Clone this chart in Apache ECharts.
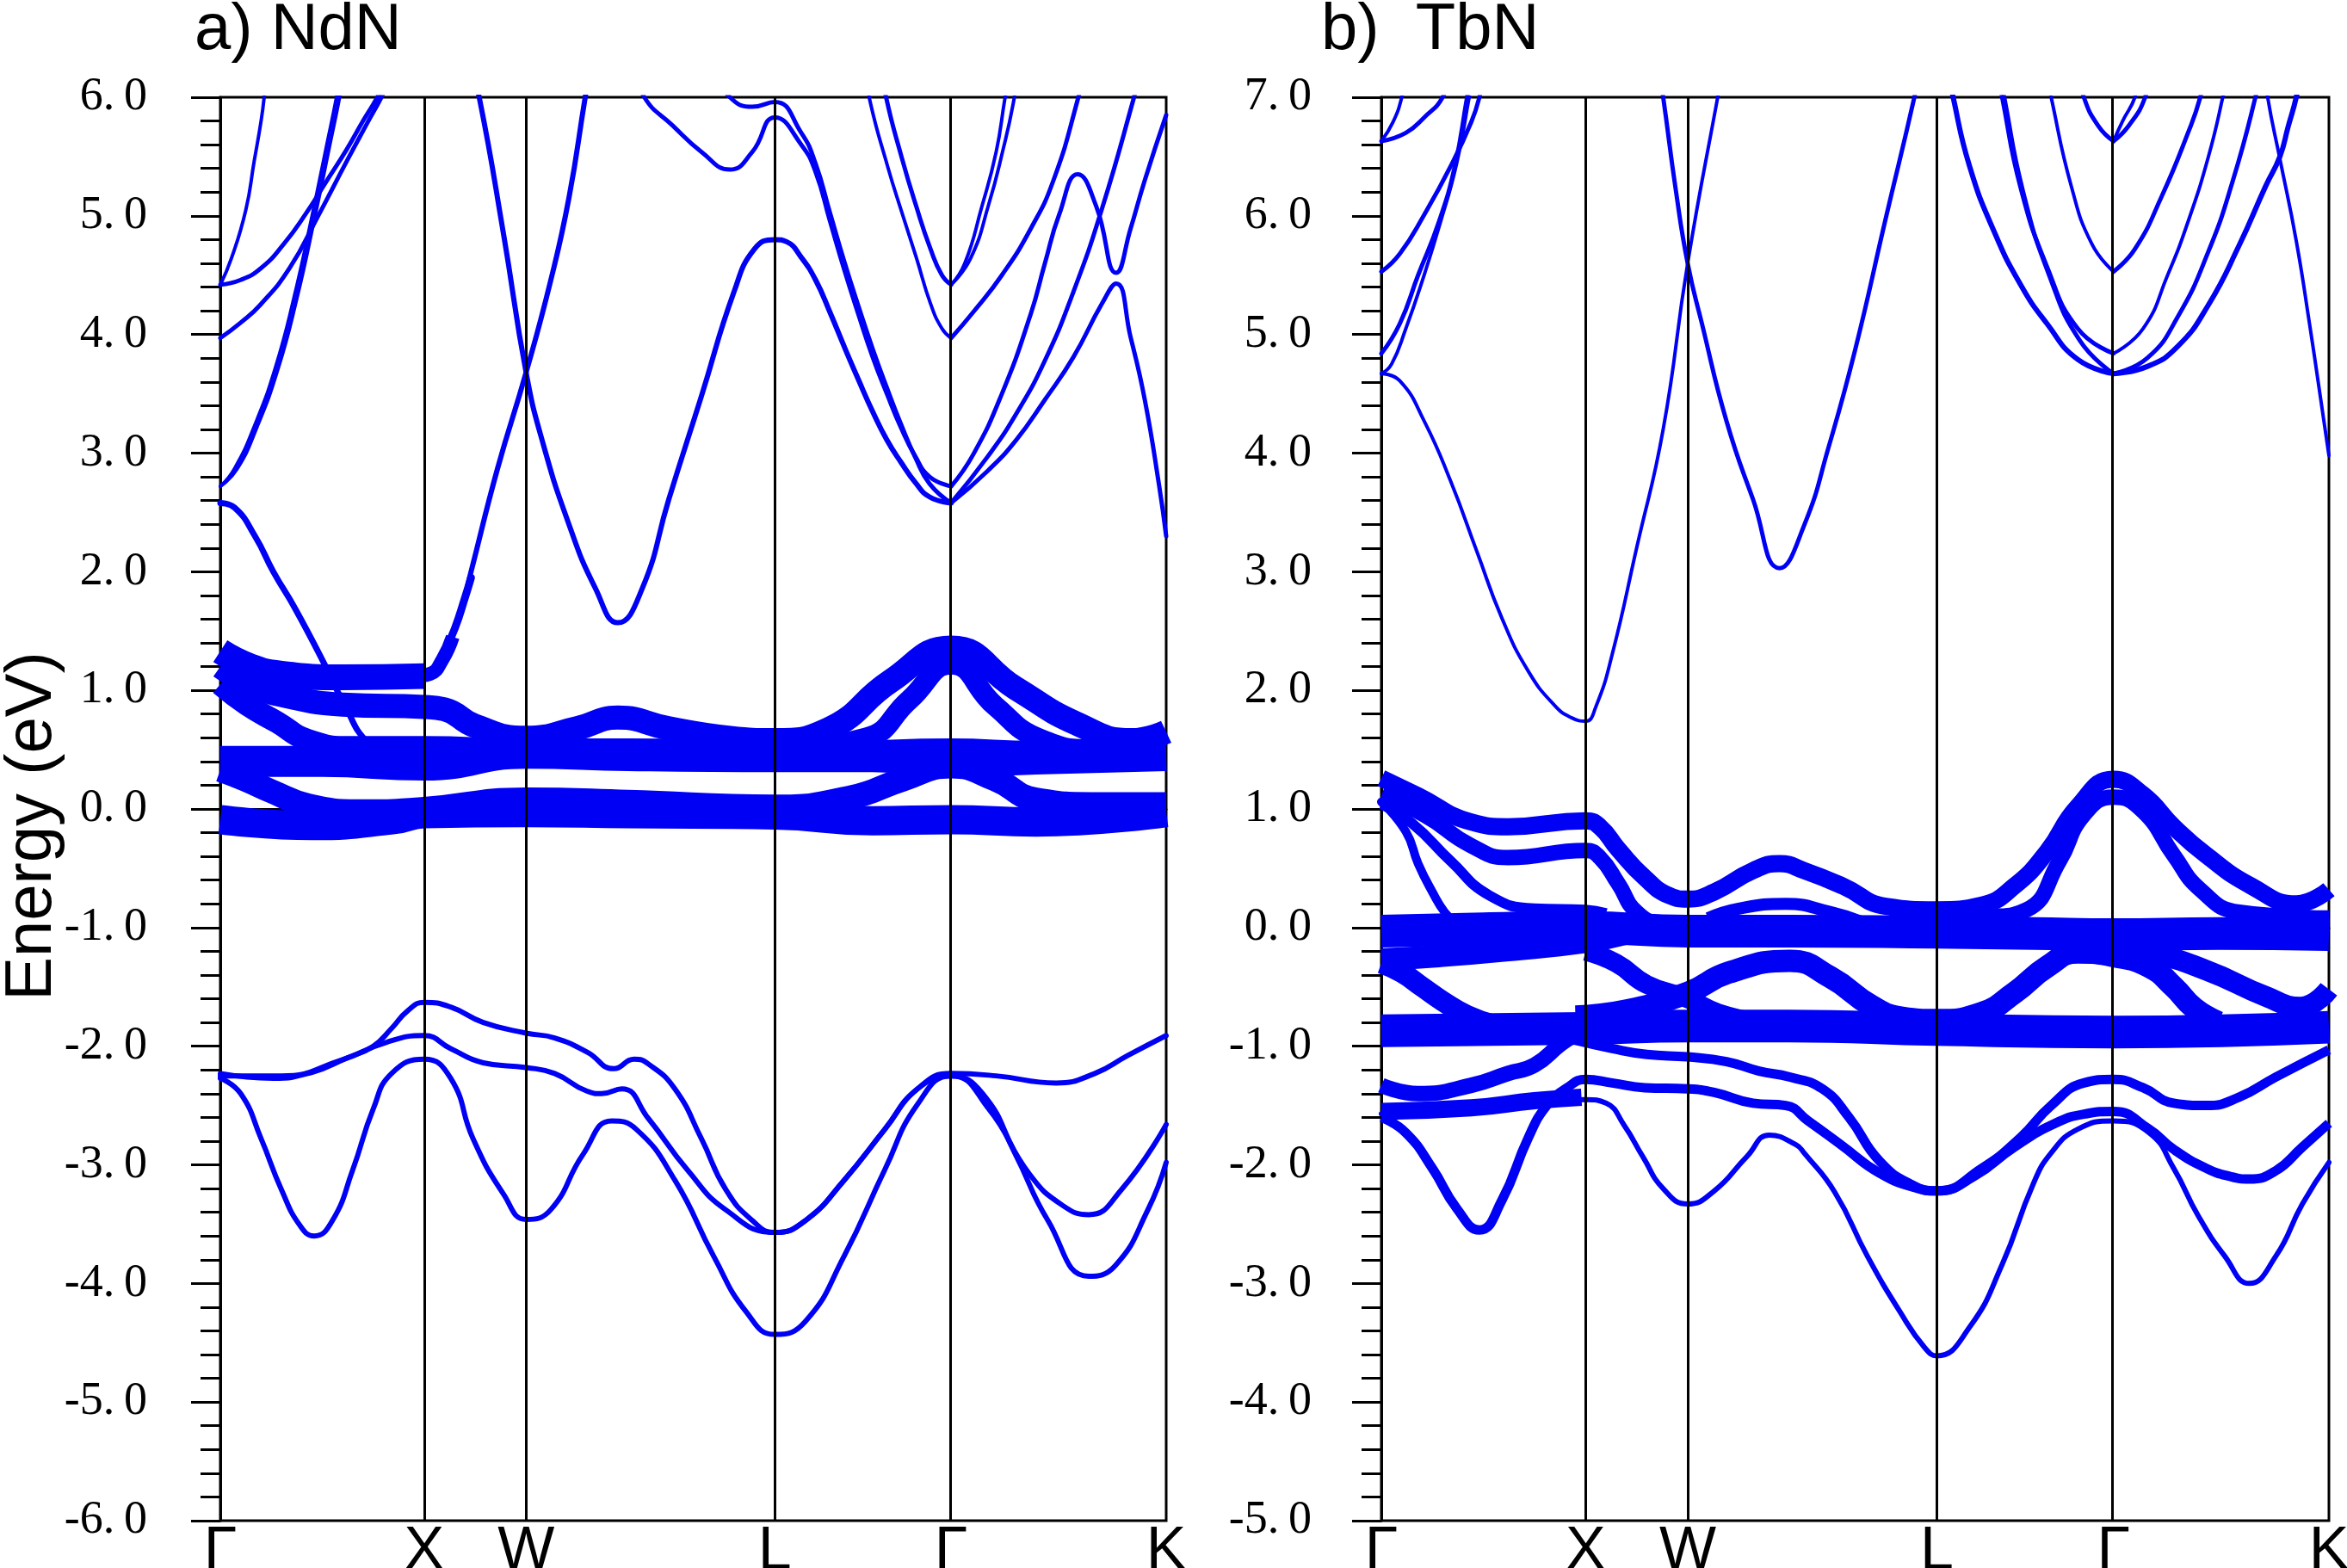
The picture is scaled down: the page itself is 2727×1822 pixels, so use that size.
<!DOCTYPE html>
<html>
<head>
<meta charset="utf-8">
<script src="https://cdn.jsdelivr.net/npm/echarts@6/dist/echarts.min.js"></script>
<style>
  html, body { margin: 0; padding: 0; background: #fff; }
  #chart { width: 2727px; height: 1822px; }
</style>
</head>
<body>
<div id="chart"></div>
<script>
// k-path (distance along path) and its labels
var kTicks = [0, 1, 1.5, 2.72, 3.585, 4.64];
var kLabels = ['Γ', 'X', 'W', 'L', 'Γ', 'K'];

// ---------- a) NdN : bands as [k, E(eV)] ----------
var ndC1 = [[0,4.42],[0.054,4.64],[0.125,5.05],[0.166,5.46],[0.2,5.8],[0.215,6.0],[0.23,6.3]];
var ndC2 = [[0,4.42],[0.1,4.46],[0.2,4.56],[0.31,4.76],[0.42,5.02],[0.52,5.29],[0.62,5.56],[0.7,5.8],[0.77,6.0],[0.8,6.12]];
var ndC3 = [[0,3.97],[0.1,4.1],[0.196,4.25],[0.34,4.56],[0.48,5.0],[0.62,5.46],[0.72,5.78],[0.79,6.0],[0.82,6.12]];
var ndC4 = [[0,2.72],[0.07,2.87],[0.17,3.24],[0.27,3.72],[0.36,4.3],[0.45,5.0],[0.52,5.58],[0.57,6.0],[0.6,6.3]];
var ndC5 = [[0,2.72],[0.08,2.86],[0.18,3.22],[0.285,3.72],[0.375,4.3],[0.465,5.0],[0.535,5.58],[0.585,6.0],[0.61,6.25]];
var ndCdown = [[0,2.58],[0.07,2.54],[0.17,2.3],[0.26,2.0],[0.37,1.68],[0.52,1.19],[0.6,0.91],[0.73,0.55],[0.88,0.44],[1.0,0.42]];
var ndC6 = [[1.22,6.3],[1.27,6.0],[1.39,4.84],[1.5,3.68],[1.58,3.1],[1.71,2.4],[1.84,1.86],[1.95,1.57],[2.07,1.86],[2.2,2.61],[2.36,3.48],[2.52,4.36],[2.62,4.72],[2.72,4.8],[2.78,4.78],[2.85,4.65],[2.92,4.46],[2.99,4.19],[3.06,3.9],[3.13,3.62],[3.2,3.35],[3.27,3.11],[3.34,2.92],[3.41,2.75],[3.48,2.63],[3.585,2.58]];
var ndC7 = [[1.12,1.4],[1.17,1.6],[1.23,2.0],[1.36,2.87],[1.5,3.68],[1.62,4.45],[1.71,5.15],[1.79,6.0],[1.82,6.3]];
var ndC8 = [[2.04,6.25],[2.08,6.0],[2.22,5.76],[2.36,5.54],[2.5,5.39],[2.61,5.54],[2.72,5.83],[2.85,5.6],[2.92,5.37],[2.99,4.96],[3.06,4.55],[3.13,4.17],[3.2,3.81],[3.27,3.5],[3.34,3.21],[3.41,2.97],[3.48,2.8],[3.585,2.72]];
var ndC9 = [[2.44,6.2],[2.5,6.0],[2.61,5.92],[2.72,5.96],[2.85,5.7],[2.92,5.44],[2.99,5.03],[3.06,4.62],[3.13,4.24],[3.2,3.88],[3.27,3.55],[3.34,3.24],[3.41,2.96],[3.48,2.74],[3.585,2.58]];
var ndU = [[3.24,6.3],[3.266,6.0],[3.343,5.49],[3.414,5.08],[3.484,4.72],[3.54,4.5],[3.585,4.42]];
var ndV = [[3.17,6.2],[3.188,5.96],[3.273,5.42],[3.343,5.03],[3.414,4.65],[3.484,4.26],[3.54,4.05],[3.585,3.97]];
var ndR = [[3.585,3.97],[3.694,4.19],[3.834,4.5],[3.975,4.89],[4.087,5.3],[4.206,5.98],[4.23,6.2]];
var ndT1 = [[3.585,4.42],[3.652,4.6],[3.736,5.08],[3.806,5.54],[3.848,5.98],[3.87,6.2]];
var ndT2 = [[3.585,4.42],[3.68,4.64],[3.77,5.1],[3.84,5.56],[3.89,5.95],[3.91,6.2]];
var ndP = [[3.585,2.72],[3.694,2.99],[3.834,3.5],[3.975,4.17],[4.045,4.6],[4.115,5.01],[4.206,5.35],[4.297,5.08],[4.395,4.52],[4.465,4.89],[4.535,5.3],[4.64,5.85]];
var ndQ = [[3.585,2.58],[3.764,2.85],[3.904,3.11],[4.045,3.45],[4.185,3.81],[4.325,4.26],[4.395,4.43],[4.465,3.98],[4.535,3.45],[4.605,2.73],[4.64,2.3]];
var ndS = [[3.585,2.58],[3.764,2.97],[3.904,3.33],[4.045,3.78],[4.185,4.36],[4.325,5.06],[4.479,5.98],[4.51,6.2]];
// f-like (fat) bands near the Fermi level
var ndF1 = [[0,1.33],[0.15,1.2],[0.3,1.14],[0.6,1.11],[1.0,1.12]];
var ndX1 = [[0.95,1.12],[1.03,1.14],[1.09,1.26],[1.14,1.45]];
var ndX2 = [[1.1,1.33],[1.15,1.52],[1.2,1.78],[1.23,1.95]];
var ndB2 = [[0,1.2],[0.15,1.05],[0.3,0.96],[0.6,0.88],[1.0,0.86],[1.1,0.84],[1.25,0.7],[1.5,0.6],[1.75,0.68],[1.95,0.77],[2.2,0.68],[2.5,0.6],[2.72,0.58],[2.98,0.67],[3.29,1.08],[3.585,1.36],[3.9,1.02],[4.2,0.72],[4.47,0.58],[4.64,0.65]];
var ndB3 = [[2.72,0.5],[3.17,0.6],[3.38,0.92],[3.585,1.22],[3.8,0.87],[4.02,0.59],[4.3,0.5],[4.64,0.5]];
var ndG1 = [[0,1.05],[0.13,0.88],[0.28,0.73],[0.43,0.58],[0.65,0.52],[1.0,0.52],[1.5,0.5],[2.0,0.5],[2.72,0.48],[3.0,0.48],[3.585,0.5],[4.0,0.48],[4.64,0.48]];
var ndF3 = [[0,0.4],[0.5,0.4],[1.0,0.37],[1.5,0.47],[2.0,0.45],[2.72,0.44],[3.2,0.44],[3.585,0.4],[4.0,0.42],[4.64,0.45]];
var ndG2 = [[0,0.33],[0.12,0.25],[0.25,0.15],[0.43,0.03],[0.7,-0.02],[1.0,0.0],[1.5,0.08],[2.0,0.06],[2.72,0.02],[3.1,0.1],[3.35,0.25],[3.585,0.36],[3.8,0.25],[4.0,0.08],[4.3,0.04],[4.64,0.04]];
var ndF4 = [[0,-0.09],[0.45,-0.14],[0.85,-0.09],[1.0,-0.04],[1.5,-0.03],[2.0,-0.04],[2.72,-0.05],[3.2,-0.1],[3.585,-0.09],[4.0,-0.11],[4.64,-0.03]];
// valence (N p)
var ndV1 = [[0,-2.23],[0.26,-2.27],[0.45,-2.22],[0.62,-2.1],[0.75,-2.0],[0.84,-1.85],[0.92,-1.7],[1.0,-1.63],[1.13,-1.67],[1.29,-1.8],[1.5,-1.89],[1.64,-1.93],[1.8,-2.05],[1.93,-2.19],[2.03,-2.11],[2.1,-2.15],[2.23,-2.36],[2.36,-2.78],[2.48,-3.21],[2.61,-3.47],[2.72,-3.57],[2.87,-3.47],[3.06,-3.13],[3.26,-2.7],[3.42,-2.36],[3.585,-2.23],[3.805,-2.25],[4.1,-2.31],[4.29,-2.23],[4.45,-2.08],[4.64,-1.91]];
var ndV2 = [[0,-2.25],[0.3,-2.25],[0.59,-2.12],[0.81,-1.97],[1.0,-1.91],[1.13,-2.02],[1.29,-2.14],[1.5,-2.18],[1.64,-2.23],[1.8,-2.38],[1.87,-2.4],[1.97,-2.36],[2.1,-2.61],[2.29,-3.04],[2.48,-3.38],[2.72,-3.57],[2.87,-3.47],[3.06,-3.13],[3.26,-2.7],[3.42,-2.36],[3.585,-2.25],[3.77,-2.53],[3.97,-3.08],[4.13,-3.34],[4.26,-3.42],[4.42,-3.21],[4.64,-2.66]];
var ndV3 = [[0,-2.27],[0.1,-2.4],[0.2,-2.78],[0.3,-3.21],[0.39,-3.51],[0.46,-3.6],[0.55,-3.47],[0.65,-3.04],[0.75,-2.53],[0.84,-2.23],[1.0,-2.11],[1.13,-2.27],[1.24,-2.78],[1.39,-3.25],[1.5,-3.46],[1.62,-3.38],[1.78,-2.91],[1.92,-2.63],[2.04,-2.7],[2.23,-3.13],[2.42,-3.77],[2.58,-4.24],[2.72,-4.43],[2.87,-4.32],[3.06,-3.77],[3.26,-3.04],[3.42,-2.49],[3.585,-2.25],[3.74,-2.4],[3.9,-2.91],[4.06,-3.47],[4.26,-3.94],[4.39,-3.85],[4.55,-3.38],[4.64,-2.98]];

// ---------- b) TbN ----------
var tbR1 = [[0,6.63],[0.12,6.7],[0.21,6.83],[0.3,7.0],[0.33,7.2]];
var tbR1b = [[0,6.63],[0.057,6.79],[0.1,7.0],[0.12,7.2]];
var tbR2 = [[0,5.53],[0.09,5.68],[0.21,6.01],[0.34,6.42],[0.44,6.79],[0.48,7.0],[0.5,7.2]];
var tbR3 = [[0,4.84],[0.09,5.09],[0.18,5.5],[0.28,5.94],[0.36,6.42],[0.42,7.0],[0.44,7.2]];
var tbR4 = [[0,4.67],[0.05,4.75],[0.12,5.05],[0.2,5.45],[0.29,5.95],[0.37,6.45],[0.43,7.0],[0.45,7.2]];
var tbR5 = [[0,4.67],[0.09,4.61],[0.21,4.27],[0.34,3.76],[0.47,3.16],[0.59,2.61],[0.72,2.16],[0.85,1.87],[0.93,1.77],[1.0,1.74],[1.05,1.86],[1.13,2.3],[1.25,3.2],[1.38,4.2],[1.5,5.6],[1.647,7.0],[1.67,7.2]];
var tbR6 = [[1.36,7.2],[1.38,7.0],[1.44,6.24],[1.5,5.6],[1.57,5.09],[1.69,4.27],[1.82,3.61],[1.95,3.03],[2.07,3.39],[2.19,4.05],[2.32,4.87],[2.47,5.98],[2.61,7.0],[2.63,7.2]];
var tbLa = [[2.78,7.2],[2.8,7.0],[2.88,6.42],[3.0,5.87],[3.13,5.42],[3.26,5.09],[3.41,4.79],[3.585,4.67]];
var tbLb1 = [[3.02,7.2],[3.04,7.0],[3.13,6.24],[3.26,5.57],[3.41,5.05],[3.585,4.84]];
var tbLb2 = [[3.03,7.2],[3.05,7.0],[3.14,6.22],[3.27,5.5],[3.42,4.95],[3.585,4.67]];
var tbLc = [[3.26,7.2],[3.28,7.0],[3.38,6.24],[3.48,5.76],[3.585,5.53]];
var tbLd = [[3.42,7.2],[3.44,7.0],[3.51,6.76],[3.585,6.63]];
var tbRa1 = [[3.585,6.63],[3.66,6.76],[3.74,7.0],[3.76,7.2]];
var tbRa2 = [[3.585,6.63],[3.63,6.8],[3.69,7.0],[3.71,7.2]];
var tbRa = [[3.585,5.53],[3.69,5.72],[3.82,6.16],[3.95,6.7],[4.01,7.0],[4.03,7.2]];
var tbRb = [[3.585,4.84],[3.73,5.05],[3.85,5.5],[3.95,5.95],[4.05,6.5],[4.12,7.0],[4.14,7.2]];
var tbRc = [[3.585,4.67],[3.75,4.8],[3.9,5.15],[4.05,5.7],[4.17,6.3],[4.28,7.0],[4.3,7.2]];
var tbRd = [[3.585,4.67],[3.75,4.73],[3.9,4.9],[4.05,5.25],[4.2,5.75],[4.33,6.25],[4.4,6.5],[4.44,6.75],[4.48,7.0],[4.5,7.2]];
var tbRe = [[4.33,7.2],[4.34,7.0],[4.4,6.48],[4.48,5.79],[4.545,5.09],[4.59,4.57],[4.64,3.98]];
// fat f-bands
var tbF1 = [[0,1.26],[0.18,1.11],[0.44,0.89],[0.62,0.85],[1.0,0.9],[1.07,0.85],[1.16,0.66],[1.29,0.42],[1.41,0.27],[1.5,0.24],[1.63,0.3],[1.82,0.48],[1.95,0.54],[2.07,0.48],[2.26,0.35],[2.47,0.18],[2.72,0.15],[2.94,0.19],[3.1,0.35],[3.26,0.64],[3.41,1.02],[3.585,1.25],[3.73,1.12],[3.88,0.85],[4.04,0.61],[4.26,0.35],[4.48,0.2],[4.64,0.32]];
var tbF1b = [[1.6,0.08],[1.75,0.16],[1.98,0.2],[2.2,0.13],[2.35,0.05]];
var tbF2 = [[0,1.11],[0.21,0.95],[0.44,0.69],[0.62,0.59],[1.0,0.65],[1.07,0.59],[1.16,0.37],[1.25,0.13],[1.38,0.02],[1.5,0.0],[2.0,0.02],[2.72,0.03],[2.94,0.08],[3.16,0.15],[3.32,0.56],[3.44,0.95],[3.585,1.1],[3.73,0.98],[3.88,0.61],[4.01,0.32],[4.2,0.13],[4.64,0.08]];
var tbG1 = [[0,1.06],[0.12,0.81],[0.18,0.54],[0.25,0.3],[0.31,0.13],[0.36,0.05]];
var tbG2 = [[0,1.04],[0.15,0.88],[0.34,0.56],[0.53,0.27],[0.75,0.16],[1.0,0.15],[1.1,0.12]];
var tbF0 = [[0,-0.03],[0.5,-0.01],[1.0,0.0],[1.5,-0.03],[2.0,-0.03],[2.72,-0.04],[3.2,-0.05],[3.585,-0.06],[4.1,-0.05],[4.64,-0.06]];
var tbTx = [[0,-0.27],[0.28,-0.24],[0.62,-0.19],[1.0,-0.12],[1.2,-0.05]];
var tbRg3 = [[0,-0.3],[0.1,-0.38],[0.2,-0.5],[0.3,-0.62],[0.42,-0.74],[0.55,-0.82]];
var tbMa = [[1.0,-0.2],[1.15,-0.3],[1.3,-0.48],[1.5,-0.6],[1.65,-0.72],[1.85,-0.8]];
var tbMb = [[0.95,-0.75],[1.2,-0.7],[1.5,-0.55],[1.7,-0.38],[2.0,-0.28],[2.2,-0.42],[2.4,-0.66],[2.55,-0.76],[2.72,-0.78],[2.94,-0.72],[3.1,-0.55],[3.26,-0.33],[3.41,-0.21],[3.585,-0.24],[3.76,-0.33],[3.88,-0.5],[3.98,-0.68],[4.1,-0.8]];
var tbM3 = [[3.585,-0.2],[3.79,-0.23],[4.04,-0.36],[4.33,-0.58],[4.5,-0.67],[4.64,-0.52]];
var tbFlat = [[0,-0.87],[1.0,-0.85],[1.5,-0.83],[2.0,-0.83],[2.72,-0.86],[3.585,-0.88],[4.64,-0.84]];
// valence
var tbL1 = [[0,-1.33],[0.18,-1.4],[0.44,-1.33],[0.62,-1.23],[0.75,-1.16],[0.88,-0.98],[0.95,-0.9]];
var tbL4 = [[0,-1.6],[0.12,-1.73],[0.25,-2.03],[0.37,-2.37],[0.48,-2.55],[0.59,-2.3],[0.72,-1.77],[0.81,-1.5],[0.91,-1.35],[1.0,-1.28],[1.13,-1.31],[1.29,-1.35],[1.5,-1.36],[1.63,-1.39],[1.82,-1.48],[1.98,-1.5],[2.09,-1.63],[2.25,-1.83],[2.44,-2.07],[2.63,-2.2],[2.72,-2.22],[2.94,-2.03],[3.13,-1.77],[3.28,-1.5],[3.44,-1.31],[3.585,-1.28],[3.73,-1.35],[3.88,-1.48],[4.04,-1.5],[4.2,-1.43],[4.38,-1.26],[4.64,-1.03]];
var tbL7 = [[0,-1.57],[0.44,-1.55],[0.75,-1.48],[1.0,-1.45],[1.1,-1.48],[1.19,-1.67],[1.28,-1.93],[1.38,-2.2],[1.5,-2.33],[1.63,-2.22],[1.79,-1.93],[1.9,-1.75],[2.03,-1.83],[2.07,-1.9],[2.22,-2.23],[2.38,-2.77],[2.54,-3.24],[2.66,-3.54],[2.72,-3.61],[2.88,-3.37],[3.04,-2.84],[3.19,-2.17],[3.28,-1.9],[3.41,-1.7],[3.585,-1.63],[3.76,-1.73],[3.88,-2.03],[4.0,-2.43],[4.13,-2.77],[4.25,-3.0],[4.38,-2.77],[4.51,-2.33],[4.64,-1.98]];
var tbL7fat = [[0,-1.55],[0.44,-1.52],[0.75,-1.46],[0.98,-1.43]];
var tbL6 = [[0.95,-0.95],[1.13,-1.02],[1.3,-1.07],[1.5,-1.09],[1.69,-1.13],[1.85,-1.21],[2.0,-1.26],[2.16,-1.36],[2.29,-1.6],[2.44,-1.97],[2.6,-2.17],[2.72,-2.22],[2.9,-2.1],[3.1,-1.85],[3.3,-1.65],[3.45,-1.57],[3.585,-1.55],[3.76,-1.7],[3.88,-1.87],[4.04,-2.03],[4.16,-2.1],[4.25,-2.12],[4.38,-2.05],[4.51,-1.85],[4.64,-1.65]];

// line widths (px) for each band, per panel
var leftSet = [
  [ndF3, 36], [ndF4, 34], [ndG1, 26], [ndG2, 28], [ndB2, 28], [ndB3, 24], [ndF1, 30], [ndX1, 16], [ndX2, 9],
  [ndCdown, 7], [ndC6, 6], [ndC7, 6], [ndC1, 4], [ndC2, 5], [ndC3, 5], [ndC4, 4], [ndC5, 4],
  [ndC8, 5], [ndC9, 5], [ndU, 5], [ndV, 4], [ndR, 5], [ndT1, 4], [ndT2, 4], [ndP, 5], [ndQ, 5], [ndS, 5],
  [ndV1, 6], [ndV2, 6], [ndV3, 6]
];
var rightSet = [
  [tbF0, 38], [tbFlat, 38], [tbTx, 26], [tbRg3, 24], [tbMa, 22], [tbMb, 26], [tbM3, 24],
  [tbF1, 20], [tbF1b, 14], [tbF2, 18], [tbG1, 10], [tbG2, 12],
  [tbL1, 18], [tbL4, 11], [tbL7, 6], [tbL7fat, 20], [tbL6, 11],
  [tbR1, 5], [tbR1b, 4], [tbR2, 5], [tbR3, 5], [tbR4, 4], [tbR5, 4], [tbR6, 5],
  [tbLa, 6], [tbLb1, 5], [tbLb2, 5], [tbLc, 4], [tbLd, 5], [tbRa1, 5], [tbRa2, 4],
  [tbRa, 5], [tbRb, 4], [tbRc, 5], [tbRd, 6], [tbRe, 4]
];

var BLUE = '#0000f5';
var series = [];

function addBands(set, idx) {
  set.forEach(function (b) {
    series.push({
      type: 'line', xAxisIndex: idx, yAxisIndex: idx,
      data: b[0], symbol: 'none', smooth: 0.5,
      clip: true, silent: true, z: 3,
      lineStyle: { color: BLUE, width: b[1], cap: b[1] > 10 ? 'butt' : 'round', join: 'round' }
    });
  });
  // high-symmetry lines
  series.push({
    type: 'line', xAxisIndex: idx, yAxisIndex: idx, data: [], z: 1, silent: true,
    markLine: {
      silent: true, symbol: ['none', 'none'], label: { show: false },
      lineStyle: { color: '#000', width: 3, type: 'solid' },
      data: kTicks.slice(1, 5).map(function (v) { return { xAxis: v }; })
    }
  });
}
addBands(leftSet, 0);
addBands(rightSet, 1);

function xAx(idx) {
  return {
    gridIndex: idx, type: 'value', min: 0, max: 4.64,
    axisLine: { show: true, lineStyle: { color: '#000', width: 3 } },
    axisTick: { show: false }, splitLine: { show: false },
    axisLabel: {
      customValues: kTicks, margin: 2, color: '#000',
      fontFamily: 'Liberation Sans', fontSize: 70,
      formatter: function (v) { return kLabels[kTicks.indexOf(v)]; }
    }
  };
}
function yAx(idx, lo, hi, margin) {
  return {
    gridIndex: idx, type: 'value', min: lo, max: hi, interval: 1,
    axisLine: { show: true, lineStyle: { color: '#000', width: 3 } },
    axisTick: { show: true, inside: false, length: 34, lineStyle: { color: '#000', width: 3 } },
    minorTick: { show: true, splitNumber: 5, length: 23, lineStyle: { color: '#000', width: 3 } },
    splitLine: { show: false },
    axisLabel: {
      margin: margin, color: '#000', fontFamily: 'Liberation Serif', fontSize: 54,
      formatter: function (v) { return v.toFixed(1).replace('.', '.\u2009'); }
    }
  };
}

var chart = echarts.init(document.getElementById('chart'));
chart.setOption({
  animation: false,
  backgroundColor: '#fff',
  grid: [
    { left: 256, top: 113, width: 1099, height: 1654, outerBoundsMode: 'none', containLabel: false,
      show: true, borderColor: '#000', borderWidth: 3, backgroundColor: 'transparent' },
    { left: 1605, top: 113, width: 1101, height: 1654, outerBoundsMode: 'none', containLabel: false,
      show: true, borderColor: '#000', borderWidth: 3, backgroundColor: 'transparent' }
  ],
  xAxis: [xAx(0), xAx(1)],
  yAxis: [yAx(0, -6, 6, 85), yAx(1, -5, 7, 81)],
  graphic: [
    { type: 'text', left: 226, top: -2, style: { text: 'a) NdN', font: '76px "Liberation Sans"', fill: '#000' } },
    { type: 'text', left: 1535, top: -2, style: { text: 'b)  TbN', font: '76px "Liberation Sans"', fill: '#000' } },
    { type: 'text', x: 38, y: 960, rotation: Math.PI / 2,
      style: { text: 'Energy (eV)', font: '76px "Liberation Sans"', fill: '#000', align: 'center', verticalAlign: 'middle' } }
  ],
  series: series
});
</script>
</body>
</html>
